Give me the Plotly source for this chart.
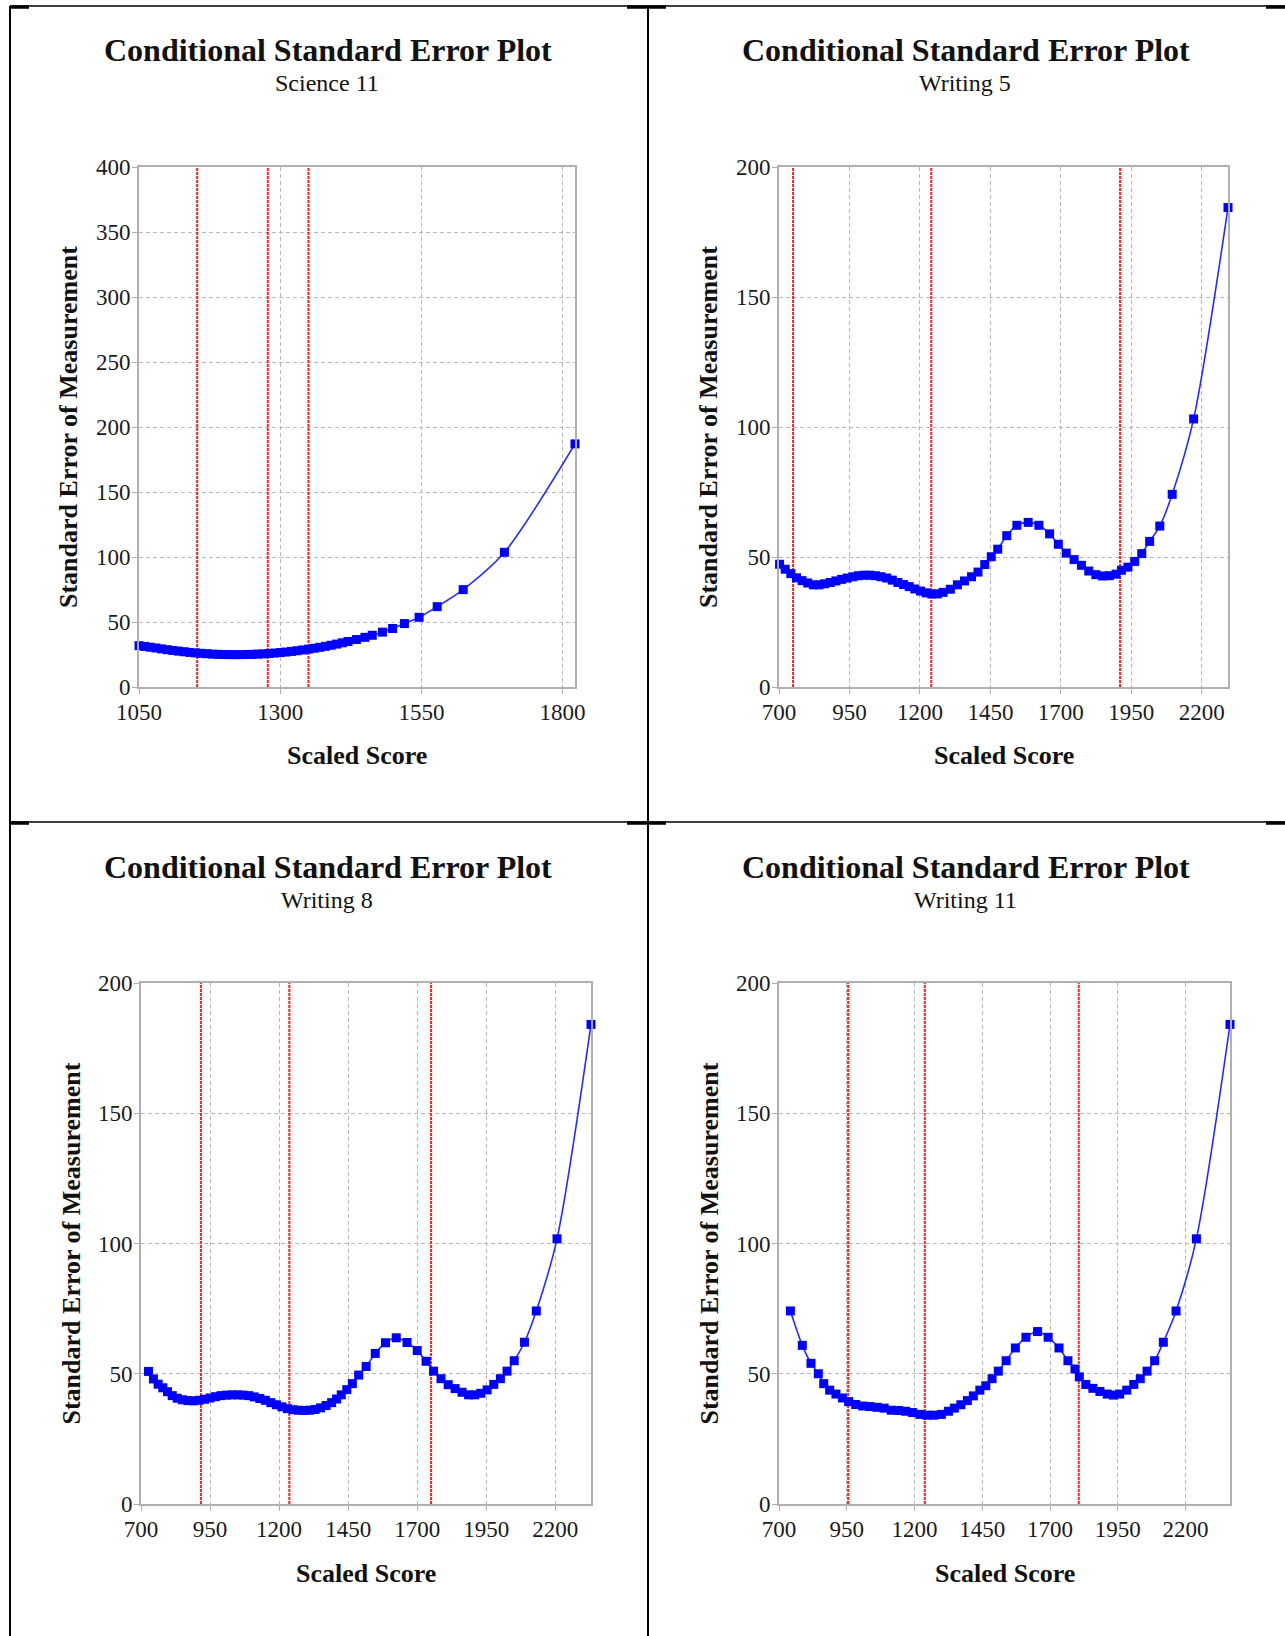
import plotly.graph_objects as go

W, H = 1285, 1636

# ---- Science 11 ----
sci11_score = [1050, 1060, 1070, 1080, 1090, 1100, 1110, 1120, 1130, 1140,
               1150, 1160, 1170, 1180, 1190, 1200, 1210, 1220, 1230, 1240,
               1250, 1260, 1270, 1280, 1290, 1300, 1310, 1320, 1330, 1340,
               1350, 1360, 1370, 1380, 1390, 1400, 1410, 1420, 1435, 1450,
               1463, 1481, 1499, 1520, 1546, 1578, 1624, 1697, 1822]
sci11_csem = [31.8, 31.2, 30.6, 30.0, 29.3, 28.7, 28.1, 27.6, 27.1, 26.6,
              26.2, 25.9, 25.6, 25.3, 25.1, 25.0, 24.9, 24.9, 24.9, 25.0,
              25.1, 25.3, 25.5, 25.8, 26.1, 26.5, 26.9, 27.4, 27.9, 28.5,
              29.1, 29.8, 30.5, 31.3, 32.1, 33.0, 34.0, 35.0, 36.5, 38.2,
              39.8, 42.2, 45.0, 48.8, 53.6, 61.8, 74.9, 103.6, 187.0]
sci11_cuts = [1153, 1278, 1350]

# ---- Writing 5 ----
wr5_score = [702, 722, 742, 762, 782, 802, 822, 842, 862, 882,
             902, 922, 942, 962, 982, 1002, 1022, 1042, 1062, 1082,
             1102, 1122, 1142, 1162, 1182, 1202, 1222, 1242, 1262, 1282,
             1308, 1333, 1358, 1383, 1406, 1430, 1453, 1476, 1508, 1544,
             1584, 1622, 1660, 1691, 1719, 1747, 1773, 1799, 1824, 1848,
             1872, 1896, 1915, 1938, 1962, 1987, 2015, 2051, 2095, 2171, 2293]
wr5_csem = [47.2, 45.3, 43.6, 42.0, 40.9, 40.0, 39.3, 39.3, 39.7, 40.2,
            40.8, 41.4, 41.9, 42.4, 42.8, 43.0, 43.0, 42.8, 42.4, 41.9,
            41.1, 40.2, 39.4, 38.6, 37.7, 36.9, 36.2, 35.8, 35.8, 36.4,
            37.6, 39.3, 40.8, 42.4, 44.2, 47.1, 50.1, 53.0, 58.2, 62.2,
            63.3, 62.2, 58.9, 54.9, 51.5, 49.0, 46.8, 44.6, 43.2, 42.7,
            42.8, 43.4, 44.9, 46.1, 48.3, 51.3, 56.0, 61.9, 74.1, 103.1, 184.4]
wr5_cuts = [750, 1240, 1910]

# ---- Writing 8 ----
wr8_score = [727, 745, 762, 779, 796, 813, 831, 850, 870, 890,
             910, 930, 950, 970, 990, 1010, 1030, 1050, 1070, 1090,
             1110, 1130, 1150, 1170, 1190, 1210, 1230, 1250, 1270, 1290,
             1310, 1330, 1350, 1370, 1390, 1408, 1425, 1445, 1465, 1488,
             1515, 1548, 1585, 1624, 1663, 1700, 1732, 1759, 1786, 1812,
             1837, 1862, 1886, 1908, 1930, 1953, 1977, 2001, 2025, 2051,
             2088, 2131, 2206, 2329]
wr8_csem = [50.9, 48.0, 46.0, 44.6, 43.1, 41.6, 40.6, 40.0, 39.7, 39.6,
            39.8, 40.2, 40.7, 41.2, 41.6, 41.8, 41.9, 41.9, 41.8, 41.6,
            41.1, 40.5, 39.8, 38.9, 38.1, 37.3, 36.6, 36.2, 36.0, 35.9,
            36.0, 36.3, 36.9, 37.8, 38.9, 40.3, 41.9, 43.9, 46.2, 49.5,
            52.8, 57.8, 61.9, 63.8, 62.0, 58.9, 54.8, 51.0, 48.1, 45.8,
            44.3, 42.9, 41.9, 41.9, 42.5, 43.8, 45.9, 48.1, 51.0, 55.0,
            62.1, 74.1, 101.8, 184.1]
wr8_cuts = [917, 1237, 1750]

# ---- Writing 11 ----
wr11_score = [742, 786, 818, 845, 865, 887, 910, 934, 957, 983,
              1009, 1036, 1062, 1088, 1114, 1141, 1167, 1193, 1220, 1246,
              1272, 1299, 1325, 1347, 1371, 1395, 1417, 1441, 1463, 1486,
              1509, 1538, 1572, 1611, 1654, 1693, 1733, 1766, 1792, 1808,
              1832, 1858, 1884, 1911, 1934, 1957, 1983, 2009, 2033, 2058,
              2086, 2118, 2165, 2240, 2364]
wr11_csem = [74.1, 60.9, 54.0, 50.0, 46.2, 43.7, 42.2, 40.7, 39.3, 38.2,
             37.6, 37.4, 37.1, 36.8, 36.0, 35.9, 35.6, 35.1, 34.4, 34.1,
             34.1, 34.4, 35.6, 36.8, 38.1, 39.7, 41.5, 43.7, 45.4, 48.1,
             51.0, 55.0, 59.9, 64.0, 66.2, 64.0, 59.9, 55.0, 51.8, 48.8,
             45.9, 44.4, 43.2, 42.2, 41.8, 42.2, 43.7, 45.9, 48.1, 51.0,
             55.0, 62.1, 74.1, 101.8, 184.1]
wr11_cuts = [955, 1238, 1806]

writing_ticks = [700, 950, 1200, 1450, 1700, 1950, 2200]
science_ticks = [1050, 1300, 1550, 1800]

TITLE = "Conditional Standard Error Plot"
SERIF = "Liberation Serif"

# plot boxes in pixels: (left, top, right, bottom); cell centre for the titles
panels = [
    dict(sub="Science 11", x=sci11_score, y=sci11_csem, cuts=sci11_cuts,
         xr=[1050, 1822], xt=science_ticks, ymax=400,
         box=(139, 167, 575, 687), cx=328, ty=50),
    dict(sub="Writing 5", x=wr5_score, y=wr5_csem, cuts=wr5_cuts,
         xr=[700, 2293], xt=writing_ticks, ymax=200,
         box=(779, 167, 1228, 687), cx=966, ty=50),
    dict(sub="Writing 8", x=wr8_score, y=wr8_csem, cuts=wr8_cuts,
         xr=[700, 2329], xt=writing_ticks, ymax=200,
         box=(141, 983, 591, 1504), cx=328, ty=867),
    dict(sub="Writing 11", x=wr11_score, y=wr11_csem, cuts=wr11_cuts,
         xr=[700, 2364], xt=writing_ticks, ymax=200,
         box=(779, 983, 1230, 1504), cx=966, ty=867),
]


def px(x):
    return x / W


def py(y):
    return 1 - y / H


fig = go.Figure()
annotations = []
shapes = []

for i, p in enumerate(panels, start=1):
    xa = "x" if i == 1 else f"x{i}"
    ya = "y" if i == 1 else f"y{i}"
    l, t, r, b = p["box"]

    # cut-score markers: vertical red lines spanning the full y range
    cut_x, cut_y = [], []
    for c in p["cuts"]:
        cut_x += [c, c, None]
        cut_y += [0, p["ymax"], None]
    fig.add_trace(go.Scatter(
        x=cut_x, y=cut_y, xaxis=xa, yaxis=ya, mode="lines",
        line=dict(color="#ff2020", width=2, dash="3px,1px"),
        showlegend=False, hoverinfo="skip"))

    fig.add_trace(go.Scatter(
        x=p["x"], y=p["y"], xaxis=xa, yaxis=ya, mode="lines+markers",
        line=dict(color="#2a2aff", width=1.6, shape="spline", smoothing=0.8),
        marker=dict(symbol="square", size=9, color="#0000ff", line=dict(width=0)),
        cliponaxis=False, showlegend=False, hoverinfo="x+y"))

    axis_common = dict(
        automargin=False,
        showline=True, linecolor="#b0b0b0", linewidth=2, mirror=True,
        showgrid=True, gridcolor="#b8b8b8", gridwidth=1, griddash="4px,3px",
        zeroline=False, ticks="outside", ticklen=5, tickcolor="#b0b0b0",
        tickwidth=1, tickfont=dict(family=SERIF, size=23, color="#1a1a1a"),
        fixedrange=True)
    fig.update_layout(**{
        ("xaxis" if i == 1 else f"xaxis{i}"): dict(
            domain=[px(l), px(r)], anchor=ya, range=p["xr"],
            tickmode="array", tickvals=p["xt"], ticklabelstandoff=-2,
            **axis_common),
        ("yaxis" if i == 1 else f"yaxis{i}"): dict(
            domain=[py(b), py(t)], anchor=xa, range=[0, p["ymax"]],
            tickmode="linear", tick0=0, dtick=50, ticklabelstandoff=-3,
            **axis_common),
    })

    annotations += [
        dict(text=f"<b>{TITLE}</b>", x=px(p["cx"]), y=py(p["ty"]),
             xref="paper", yref="paper", showarrow=False,
             xanchor="center", yanchor="middle",
             font=dict(family=SERIF, size=32, color="#111111")),
        dict(text=p["sub"], x=px(p["cx"] - 1), y=py(p["ty"] + 33),
             xref="paper", yref="paper", showarrow=False,
             xanchor="center", yanchor="middle",
             font=dict(family=SERIF, size=24, color="#111111")),
        dict(text="<b>Scaled Score</b>", x=px((l + r) / 2), y=py(b + 69),
             xref="paper", yref="paper", showarrow=False,
             xanchor="center", yanchor="middle",
             font=dict(family=SERIF, size=26, color="#111111")),
        dict(text="<b>Standard Error of Measurement</b>", x=px(l - 70),
             y=py((t + b) / 2), xref="paper", yref="paper", showarrow=False,
             textangle=-90, xanchor="center", yanchor="middle",
             font=dict(family=SERIF, size=26, color="#111111")),
    ]


# table-style cell borders
def seg(x0, y0, x1, y1, w):
    return dict(type="line", xref="paper", yref="paper",
                x0=px(x0), y0=py(y0), x1=px(x1), y1=py(y1),
                line=dict(color="black", width=w))


shapes += [
    seg(10, 6, 1285, 6, 1.5),
    seg(10, 822, 1285, 822, 1.5),
    seg(10, 6, 10, 1636, 2),
    seg(648, 6, 648, 1636, 2),
]
for yy in (7, 823):
    for x0, x1 in ((10, 29), (627, 666), (1266, 1285)):
        shapes.append(seg(x0, yy, x1, yy, 3.5))

fig.update_layout(
    width=W, height=H, margin=dict(l=0, r=0, t=0, b=0, autoexpand=False),
    paper_bgcolor="white", plot_bgcolor="white",
    annotations=annotations, shapes=shapes, showlegend=False)

fig.write_html("out.html")
